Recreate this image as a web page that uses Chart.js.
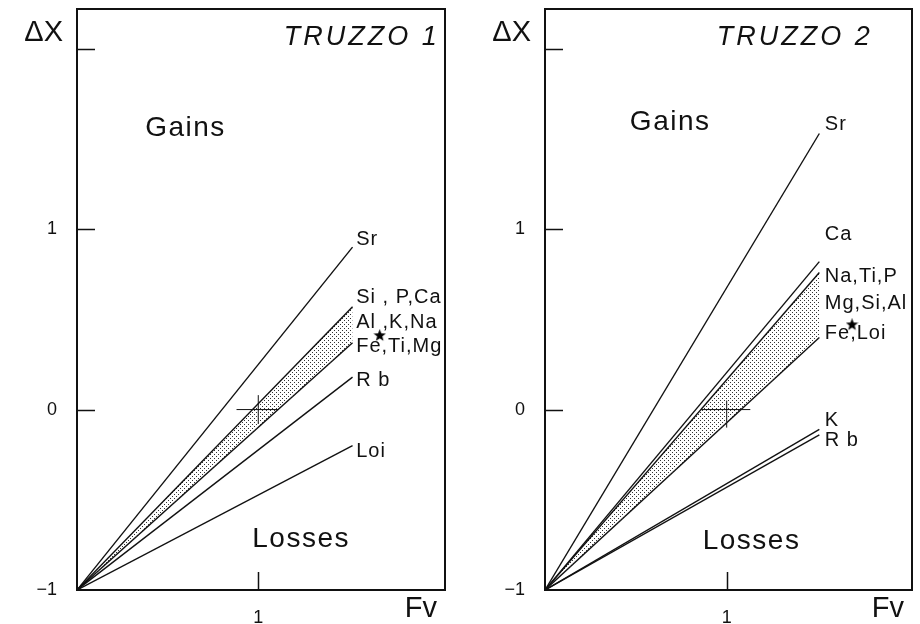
<!DOCTYPE html>
<html>
<head>
<meta charset="utf-8">
<script src="https://cdn.jsdelivr.net/npm/chart.js@4.4.1/dist/chart.umd.min.js"></script>
<style>
    body { margin: 0; background: #fff; }
    .panel { position: absolute; top: 0; }
</style>
</head>
<body>
<canvas id="truzzo1" class="panel" width="460" height="624" style="left:0"></canvas>
<canvas id="truzzo2" class="panel" width="460" height="624" style="left:460px"></canvas>
<script>

// ---- data ----
// every element line starts at (Fv = 0, dX = -1) and ends at (Fv end, dX end)
const panel1Names = ['Sr', 'Si,P,Ca', 'Fe,Ti,Mg', 'Rb', 'Loi'];
const panel1End = [0.90, 0.57, 0.37, 0.18, -0.20];
const panel1Fv = 1.52;
const panel1Band = [1, 2];
const panel1Star = [{x: 1.67, y: 0.41}];
const panel1CrossX = [0.88, 1.11];
const panel1CrossY = [-0.08, 0.08];
const panel1Labels = ['Sr', 'Si , P,Ca', 'Al ,K,Na', 'Fe,Ti,Mg', 'R b', 'Loi'];
const panel1LabelY = [0.94, 0.62, 0.48, 0.35, 0.16, -0.23];

const panel2Names = ['Sr', 'Ca', 'Na,Ti,P', 'Fe,Loi', 'K', 'Rb'];
const panel2End = [1.53, 0.82, 0.76, 0.40, -0.11, -0.14];
const panel2Fv = 1.51;
const panel2Band = [2, 3];
const panel2Star = [{x: 1.69, y: 0.47}];
const panel2CrossX = [0.86, 1.13];
const panel2CrossY = [-0.10, 0.05];
const panel2Labels = ['Sr', 'Ca', 'Na,Ti,P', 'Mg,Si,Al', 'Fe,Loi', 'K', 'R b'];
const panel2LabelY = [1.58, 0.97, 0.74, 0.59, 0.42, -0.06, -0.17];

const yTicks = [-1, 0, 1, 2];
const yTickText = ['\u22121', '0', '1', ''];
const xTickMarks = [1];
const yTickMarks = [0, 1, 2];

const FONT = '"Liberation Sans", Arial, Helvetica, sans-serif';
const INK = '#111';

function makeDots() {
    let c = document.createElement('canvas');
    c.width = 4;
    c.height = 4;
    let g = c.getContext('2d');
    g.fillStyle = '#333';
    g.fillRect(0, 0, 1, 1);
    g.fillRect(2, 2, 1, 1);
    return g.createPattern(c, 'repeat');
}

function makeStar(size) {
    let c = document.createElement('canvas');
    c.width = size;
    c.height = size;
    let g = c.getContext('2d');
    let r = size / 2, r2 = r * 0.42;
    g.beginPath();
    for (let i = 0; i < 10; i++) {
        let a = -Math.PI / 2 + i * Math.PI / 5;
        let rr = i % 2 === 0 ? r : r2;
        g.lineTo(r + rr * Math.cos(a), r + rr * Math.sin(a));
    }
    g.closePath();
    g.fillStyle = '#000';
    g.fill();
    return c;
}

// frame, inward ticks and all the text of one panel
const panelDecor = {
    id: 'panelDecor',
    afterDraw(chart, args, opts) {
        let ctx = chart.ctx;
        let area = chart.chartArea;
        let x = chart.scales.x, y = chart.scales.y;
        ctx.save();
        ctx.strokeStyle = INK;
        ctx.lineWidth = 2;
        ctx.strokeRect(area.left, area.top, area.right - area.left, area.bottom - area.top);
        ctx.lineWidth = 1.5;
        ctx.beginPath();
        yTickMarks.forEach(v => {
            let py = Math.round(y.getPixelForValue(v)) + 0.5;
            ctx.moveTo(area.left, py);
            ctx.lineTo(area.left + 18, py);
        });
        xTickMarks.forEach(v => {
            let px = Math.round(x.getPixelForValue(v)) + 0.5;
            ctx.moveTo(px, area.bottom);
            ctx.lineTo(px, area.bottom - 18);
        });
        ctx.stroke();

        ctx.fillStyle = INK;
        ctx.textBaseline = 'middle';
        ctx.textAlign = 'left';

        // panel title
        ctx.font = 'italic 27px ' + FONT;
        ctx.letterSpacing = '3px';
        ctx.fillText(opts.title, x.getPixelForValue(opts.titleAt[0]), y.getPixelForValue(opts.titleAt[1]));

        // gains / losses
        ctx.font = '28px ' + FONT;
        ctx.letterSpacing = '1.5px';
        ctx.fillText('Gains', x.getPixelForValue(opts.gainsAt[0]), y.getPixelForValue(opts.gainsAt[1]));
        ctx.fillText('Losses', x.getPixelForValue(opts.lossesAt[0]), y.getPixelForValue(opts.lossesAt[1]));

        // axis names
        ctx.font = '29px ' + FONT;
        ctx.letterSpacing = '0px';
        ctx.textAlign = 'right';
        ctx.fillText('\u0394X', area.left - 14, area.top + 24);
        ctx.fillText('Fv', area.right - 8, area.bottom + 19);

        // element names
        ctx.textAlign = 'left';
        ctx.font = '20px ' + FONT;
        ctx.letterSpacing = '1px';
        opts.labels.forEach((t, i) => {
            ctx.fillText(t, x.getPixelForValue(1.54), y.getPixelForValue(opts.labelY[i]));
        });
        ctx.restore();
    }
};

function buildDatasets(names, ends, fvEnd, band, star, crossX, crossY) {
    let dots = makeDots();
    let sets = names.map((name, i) => ({
        label: name,
        data: [{x: 0, y: -1}, {x: fvEnd, y: ends[i]}],
        showLine: true,
        borderColor: INK,
        borderWidth: 1.4,
        pointRadius: 0,
        backgroundColor: dots,
        fill: i === band[0] ? {target: band[1]} : false
    }));
    sets.push({
        label: 'cross-h',
        data: [{x: crossX[0], y: 0}, {x: crossX[1], y: 0}],
        showLine: true, borderColor: INK, borderWidth: 1, pointRadius: 0, fill: false
    });
    sets.push({
        label: 'cross-v',
        data: [{x: 1, y: crossY[0]}, {x: 1, y: crossY[1]}],
        showLine: true, borderColor: INK, borderWidth: 1, pointRadius: 0, fill: false
    });
    sets.push({
        label: 'mean',
        data: star,
        showLine: false,
        pointStyle: makeStar(13),
        pointRadius: 6,
        fill: false
    });
    return sets;
}

function drawPanel(canvasid, datasets, leftWidth, rightPad, xMax, decor) {
    let ctx = document.getElementById(canvasid).getContext('2d');
    return new Chart(ctx, {
        type: 'scatter',
        data: {datasets: datasets},
        plugins: [panelDecor],
        options: {
            responsive: false,
            animation: false,
            layout: {padding: {top: 9, right: rightPad, left: 0, bottom: 0}},
            plugins: {
                legend: {display: false},
                tooltip: {enabled: false},
                panelDecor: decor
            },
            scales: {
                x: {
                    type: 'linear',
                    min: 0,
                    max: xMax,
                    afterFit: s => {
                        s.height = 34;
                        s.paddingLeft = 0;
                        s.paddingRight = 0;
                    },
                    grid: {display: false, drawTicks: false},
                    border: {display: false},
                    ticks: {
                        stepSize: 1,
                        includeBounds: false,
                        padding: 17,
                        color: INK,
                        font: {family: FONT, size: 18},
                        callback: v => (v === 1 ? '1' : '')
                    }
                },
                y: {
                    type: 'linear',
                    min: -1,
                    max: 2.22,
                    afterFit: s => {
                        s.width = leftWidth;
                        s.paddingTop = 0;
                        s.paddingBottom = 0;
                    },
                    grid: {display: false, drawTicks: false},
                    border: {display: false},
                    ticks: {
                        stepSize: 1,
                        includeBounds: false,
                        padding: 20,
                        color: INK,
                        font: {family: FONT, size: 18},
                        callback: v => {
                            let k = yTicks.indexOf(v);
                            return k < 0 ? '' : yTickText[k];
                        }
                    }
                }
            }
        }
    });
}

drawPanel('truzzo1',
    buildDatasets(panel1Names, panel1End, panel1Fv, panel1Band, panel1Star, panel1CrossX, panel1CrossY),
    77, 15, 2.03,
    {title: 'TRUZZO 1', titleAt: [1.14, 2.06], gainsAt: [0.376, 1.56], lossesAt: [0.967, -0.72],
     labels: panel1Labels, labelY: panel1LabelY});

drawPanel('truzzo2',
    buildDatasets(panel2Names, panel2End, panel2Fv, panel2Band, panel2Star, panel2CrossX, panel2CrossY),
    85, 8, 2.02,
    {title: 'TRUZZO 2', titleAt: [0.945, 2.06], gainsAt: [0.467, 1.59], lossesAt: [0.868, -0.73],
     labels: panel2Labels, labelY: panel2LabelY});
</script>
</body>
</html>
